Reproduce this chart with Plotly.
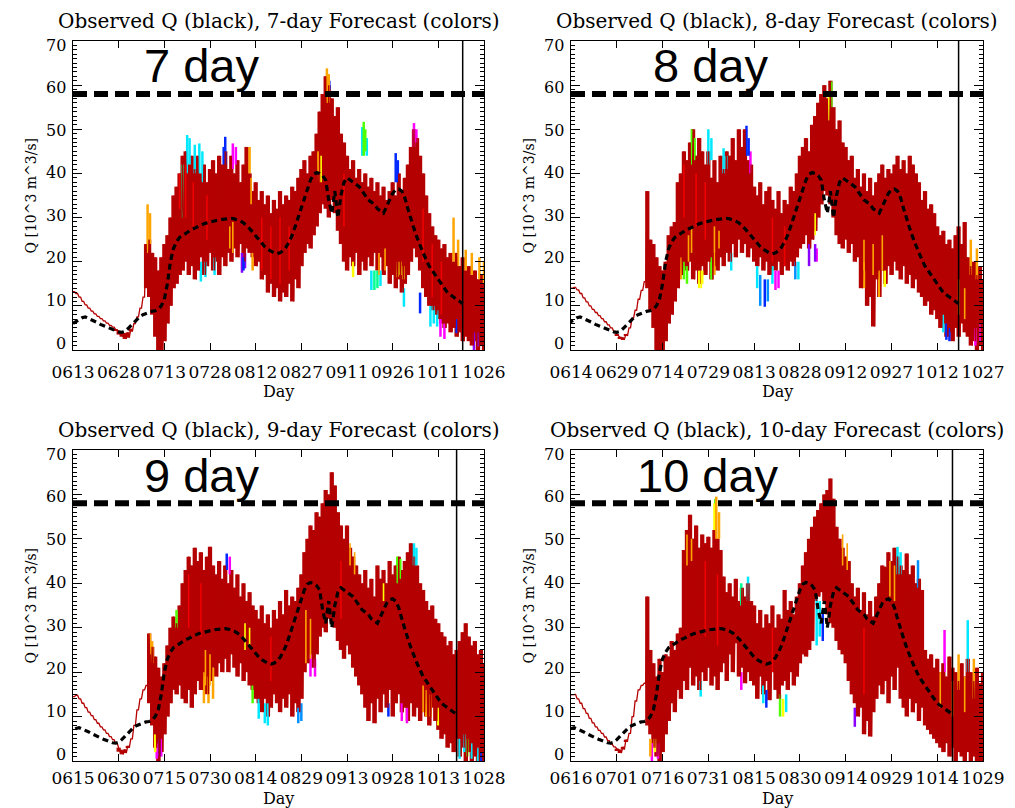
import plotly.graph_objects as go

W, H = 1015, 808

# ---------------- DATA ----------------
ticks7 = ["0613", "0628", "0713", "0728", "0812", "0827", "0911", "0926", "1011", "1026"]
ticks8 = ["0614", "0629", "0714", "0729", "0813", "0828", "0912", "0927", "1012", "1027"]
ticks9 = ["0615", "0630", "0715", "0730", "0814", "0829", "0913", "0928", "1013", "1028"]
ticks10 = ["0616", "0701", "0716", "0731", "0815", "0830", "0914", "0929", "1014", "1029"]
q_ticks = [0, 10, 20, 30, 40, 50, 60, 70]

# observed discharge (10^3 m^3/s), one value per day from 06/13 to 10/19
obs_q = [6, 6.5, 7, 7.3, 7.5, 7.2, 7, 6.6, 6.2, 5.8,
         5.5, 5.2, 4.9, 4.6, 4.3, 4.1, 4, 4.2, 4.8, 5.5,
         6.3, 7, 7.6, 8, 8.3, 8.6, 8.8, 8.9, 9.2, 10,
         11.5, 15, 20, 23, 24.5, 25.5, 26, 26.5, 27, 27.3,
         27.6, 28, 28.3, 28.6, 28.8, 29, 29.2, 29.4, 29.5, 29.6,
         29.7, 29.8, 29.8, 29.7, 29.5, 29.2, 28.8, 28.2, 27.5, 26.7,
         25.8, 25, 24.2, 23.4, 22.8, 22.3, 22, 21.8, 22, 22.5,
         23.3, 24.5, 26, 28, 30, 32, 34.5, 36.5, 38.5, 39.8,
         40.2, 40, 39.5, 38.5, 34, 31, 36, 30, 35, 38,
         39, 38.5, 38, 37.5, 37, 36, 35, 34, 33.5, 33,
         32, 31.5, 31, 32.5, 34, 35.5, 36.3, 36.5, 36, 34.5,
         32, 29.5, 27.5, 25.5, 23.5, 22, 20.5, 19, 18, 17,
         16, 15, 14, 13, 12.5, 12, 11.5, 11, 10.5]
issue_day = 128      # 10/19, days after 06/13
flood_q = 58

# forecast ensemble: upper / lower edge of the dense dark-red bundle, per day of each window
hi7 = [13.2, 12.8, 12, 11, 10.2, 9.5, 8.8, 8.2, 7.6, 7.1,
       6.6, 6.1, 5.6, 5.2, 4.7, 4.3, 4, 3.8, 4, 4.8,
       6, 7.5, 9.5, 12, 24, 25, 22, 21, 18, 21,
       24, 26, 30, 35, 37, 40, 44, 45, 42, 44,
       41, 44, 40, 42, 38, 41, 43, 40, 44, 42,
       45, 41, 44, 40, 43, 38, 42, 46, 40, 36,
       38, 34, 36, 33, 35, 31, 34, 32, 36, 33,
       35, 34, 37, 36, 39, 41, 43, 40, 44, 45,
       49, 54, 58, 62, 60, 57, 53, 55, 49, 47,
       44, 41, 43, 39, 41, 38, 40, 37, 39, 36,
       38, 35, 37, 34, 36, 38, 35, 40, 36, 39,
       42, 46, 50, 48, 44, 40, 35, 31, 28, 26,
       25, 23, 24, 21, 22, 20, 22, 19, 21, 18,
       19, 17, 18, 16, 17, 15]
lo7 = [13.2, 12.8, 12, 11, 10.2, 9.5, 8.8, 8.2, 7.6, 7.1,
       6.6, 6.1, 5.6, 5.2, 4.5, 3.5, 3, 2.5, 2.8, 4.2,
       6, 7.5, 9.5, 12, 14, 12, 8, 3, 0, 0,
       2, 6, 10, 14, 15, 17, 18, 20, 17, 19,
       16, 18, 21, 17, 19, 22, 18, 20, 17, 21,
       19, 22, 20, 23, 21, 24, 20, 23, 22, 21,
       19, 20, 16, 17, 13, 15, 12, 14, 11, 13,
       12, 15, 11, 16, 14, 19, 22, 24, 23, 26,
       28, 31, 33, 32, 30, 34, 31, 27, 24, 20,
       18, 21, 19, 22, 17, 20, 18, 21, 19, 22,
       18, 21, 17, 19, 15, 17, 14, 16, 13, 15,
       17, 20, 23, 21, 18, 14, 12, 10, 9, 8,
       7, 6, 5, 6, 4, 5, 3, 4, 2, 3,
       2, 1, 2, 0, 1, 0]
hi8 = [14, 14.2, 13.6, 12.8, 11.8, 10.9, 10, 9.2, 8.5, 7.8,
       7.1, 6.4, 5.7, 5, 4.2, 3.6, 3, 2.8, 3.6, 5,
       7.2, 9, 11.5, 13.5, 15.5, 36, 25, 24, 21, 19,
       18, 20, 26, 28, 29, 38, 40, 45, 43, 47,
       50, 44, 48, 45, 42, 45, 39, 43, 38, 44,
       41, 45, 44, 48, 43, 50, 46, 50, 43, 42,
       37, 35, 38, 33, 36, 37, 34, 32, 36, 31,
       34, 33, 37, 36, 40, 44, 46, 48, 45, 51,
       53, 56, 58, 60, 57, 61, 55, 50, 52, 47,
       46, 43, 44, 39, 41, 37, 40, 36, 39, 35,
       38, 40, 42, 39, 41, 40, 42, 44, 41, 43,
       40, 44, 42, 40, 38, 34, 36, 32, 33, 31,
       28, 26, 27, 24, 25, 23, 26, 28, 24, 29,
       21, 19, 20, 17, 19, 16]
lo8 = [14, 14.2, 13.6, 12.8, 11.8, 10.9, 10, 9.2, 8.5, 7.8,
       7.1, 6.4, 5.7, 5, 4.2, 3.3, 2.6, 2.4, 3.2, 5,
       7.2, 9, 11.5, 13.5, 15.5, 14, 9, 5, 0, 0,
       0, 2, 6, 8, 11, 14, 17, 19, 18, 20,
       16, 18, 15, 19, 17, 20, 16, 19, 18, 21,
       19, 22, 20, 24, 21, 25, 22, 24, 21, 23,
       20, 19, 21, 18, 20, 17, 19, 18, 20, 17,
       19, 18, 20, 19, 21, 23, 24, 26, 23, 25,
       27, 30, 33, 36, 35, 33, 30, 26, 24, 23,
       25, 22, 24, 20, 21, 14, 18, 10, 12, 5.3,
       16, 12, 18, 15, 19, 17, 20, 18, 16, 19,
       15, 17, 14, 16, 13, 12, 10, 11, 8, 9,
       7, 5, 6, 3, 4, 2, 5, 3, 6, 4,
       3, 1, 2, 0, 1, 0]
hi9 = [14.5, 14.8, 14, 13, 12, 11, 10.2, 9.3, 8.5, 7.7,
       7, 6.2, 5.5, 4.8, 4, 3, 2.4, 2.6, 3.4, 5,
       8, 11.5, 14, 16, 17, 28.7, 25.7, 23.5, 21, 19,
       22, 26, 30, 32.5, 31, 35, 40, 43, 46, 44,
       48, 45, 47, 43, 46, 48.2, 44, 42, 45, 41,
       44, 40, 43, 39, 42, 37, 40, 36, 38, 35,
       34, 32, 35, 31, 33, 30, 34, 32, 36, 33,
       38.5, 35, 37, 36, 39, 42, 47, 50, 53, 52,
       56, 55, 58, 61, 60, 65, 62, 56, 53, 50,
       53, 48, 46, 44, 42, 40, 43, 39, 41, 37,
       44, 41, 43, 40, 45, 42, 44, 46, 43, 45,
       47, 49, 46, 44, 40, 38.5, 36, 34, 35, 32,
       31, 29, 28, 26, 27, 24, 25, 27, 29, 31,
       28, 26, 27, 24, 25, 22]
lo9 = [14.5, 14.8, 14, 13, 12, 11, 10.2, 9.3, 8.5, 7.7,
       7, 6.2, 5.5, 4.8, 4, 2.1, 1.5, 1.8, 3, 5,
       8, 11.5, 14, 16, 17, 13, 8, 3, 0, 2,
       6, 10, 13, 16, 15, 17, 14, 13, 16, 12,
       15, 18, 16, 19, 15, 18, 21, 19, 22, 20,
       23, 20, 24, 21, 19, 22, 18, 20, 17, 16,
       14, 13, 11, 14, 10, 12, 15, 13, 11, 14,
       12, 15, 10, 13, 11, 14, 20, 22, 24, 21,
       24, 28, 30, 29, 32, 31, 30, 27, 25, 23,
       26, 24, 21, 19, 17, 15, 12, 9, 13, 8.5,
       14, 11, 15, 12, 16, 10, 13, 15, 11, 12,
       9, 13, 10, 12, 9, 11, 10, 8, 12, 9,
       7, 5, 6, 3, 4, 2, 5, 1, 3, 0,
       2, 0, 1, 0, 0.5, 0]
hi10 = [14.9, 15, 14, 13, 11.8, 10.7, 9.6, 8.6, 7.7, 6.9,
        6.2, 5.4, 4.6, 3.8, 3.2, 2.8, 2.5, 3.2, 4.8, 6.2,
        10, 13.5, 16, 17, 17.5, 37, 25, 22, 19, 23,
        20, 24, 23.5, 27, 25, 28.7, 30, 47.5, 52, 55.4,
        50, 53, 48, 51, 49, 50.5, 48, 52, 50, 47.5,
        41.5, 38, 40, 37, 41, 36, 39, 37, 40, 36,
        35, 31, 34, 30, 33, 31, 35, 30, 33, 32,
        38.5, 34, 36, 33, 37, 40, 44, 47, 50, 52.7,
        55, 56.5, 58, 60, 61, 63.6, 59, 52.7, 50, 48,
        46, 45, 40, 37, 39, 34, 38, 33, 36, 32.5,
        37, 40, 44, 43.7, 47, 45, 48, 46, 44, 43,
        46.7, 42, 44, 40, 41, 38.5, 25, 23, 24, 21,
        23, 20, 22, 19, 23.5, 21, 20, 18, 22, 19,
        23, 20, 18, 21, 17.5, 20]
lo10 = [14.9, 15, 14, 13, 11.8, 10.7, 9.6, 8.6, 7.7, 6.9,
        6.2, 5.4, 4.6, 3.8, 3.2, 2.4, 1.8, 2.6, 4.5, 6.2,
        10, 13.5, 16, 17, 17.5, 8, 6, 3, 1, 0,
        2, 6, 9, 13, 11, 16, 14, 18, 16, 21,
        17, 19, 16, 20, 18, 21, 17, 19, 16, 20,
        22, 18, 24, 20, 26.5, 19, 21, 17.5, 20, 18,
        17, 14, 19, 15, 18, 13.7, 20, 16, 14, 17,
        18, 16, 20, 17, 19, 22, 24, 23.5, 25, 27,
        36, 37, 38, 36, 33, 31, 30, 27, 25, 24,
        22, 18, 15, 13, 10, 12, 6, 9, 5.5, 11,
        14, 17, 15, 18, 13, 19, 16, 21, 14, 12,
        10, 14, 11, 13, 9, 12, 8, 7, 6, 5,
        4, 3, 2, 4, 1, 3, 0, 2, 1, 0,
        2, 0, 1, 0, 0, 0]

# individual coloured members where they stick out of the bundle: day, low, high, colour
s7_day = [24.5, 25.3, 36, 37.5, 38.3, 40, 41.5, 42.5, 42, 43.5, 46.5, 49.5, 50, 52.5, 53.5, 55.5, 56.5, 56,
          58, 59, 80.5, 83.4, 84, 84.2, 95, 95.5, 96, 96.5, 92, 98, 99, 100, 101, 106, 106.7, 106.5, 107.5,
          108.5, 112, 112.8, 108.7, 114, 117.4, 118.5, 119.6, 120.7, 122, 126, 131.7, 133.3, 125, 126.5,
          129, 131, 133.5, 135]
s7_lo = [22, 24, 30, 40, 42, 40, 40, 38, 15.5, 16.5, 17, 42, 42, 41, 42, 17.5, 18.5, 18,
         40, 18, 38, 56, 56, 59, 44, 44, 45, 44, 16.5, 13.6, 13.6, 14, 14.5, 38, 38, 16.5, 17,
         16, 46, 47, 9.8, 8.3, 5.3, 6, 5.3, 3, 2.5, 3.8, 0, 0.8, 20, 19,
         18, 17, 16, 15]
s7_hi = [33, 31, 42, 48.7, 48, 46.5, 46.8, 45, 20, 20, 21, 46, 48.3, 46.8, 46, 22, 22, 21,
         46, 22, 44.6, 63.8, 62.5, 61, 50.5, 51.7, 50, 48, 20, 18, 18, 18, 18, 44.6, 43, 20, 20,
         19, 51.4, 50, 14, 13, 10, 10, 9, 7, 6, 7, 4, 4, 30, 25,
         22.7, 22, 21, 20]
s7_col = ["orange", "orange", "spring", "cyan", "cyan", "cyan", "cyan", "cyan", "cyan", "cyan", "cyan",
          "blue", "blue", "magenta", "magenta", "purple", "purple", "blue",
          "orange", "orange", "orange", "orange", "orange", "blue", "cyan", "green", "green", "cyan",
          "yellow", "cyan", "spring", "spring", "cyan", "blue", "blue", "yellow", "yellow",
          "yellow", "magenta", "magenta", "cyan", "blue", "cyan", "cyan", "cyan", "magenta", "magenta",
          "blue", "purple", "purple", "orange", "orange", "orange", "orange", "orange", "orange"]

s8_day = [36, 37, 38, 39.6, 40.5, 42, 43, 45, 46, 46, 47, 50, 51, 52.5, 57.5, 58.2, 58.8, 61, 62, 63.5,
          64.5, 66, 67, 68, 73.5, 74.5, 78, 80, 80.5, 84.5, 85.3, 96, 101, 102.8, 122, 123, 124, 131, 133,
          132.5, 134]
s8_lo = [16, 16, 15, 42, 43, 14, 15, 42, 43, 16, 17, 40, 41, 18, 44, 44, 40, 14, 10, 9.8,
         11, 15, 13.6, 14, 16, 16, 19, 20, 20, 52, 55, 14, 12, 14.3, 4, 2.3, 2, 17, 16,
         1, 2]
s8_hi = [21, 20, 19, 50, 48, 18, 18, 50, 48, 21, 22, 45.7, 44, 22, 50.8, 48, 45, 19, 17, 16,
         16, 19, 18, 18, 20, 20, 24, 24, 23, 58, 60.8, 20, 18, 18, 8, 6, 5, 25, 23,
         5, 6]
s8_col = ["orange", "green", "green", "green", "green", "yellow", "yellow", "cyan", "cyan", "green", "orange",
          "cyan", "cyan", "cyan", "blue", "blue", "magenta", "cyan", "dodger", "blue",
          "dodger", "cyan", "magenta", "magenta", "dodger", "cyan", "purple", "purple", "magenta", "yellow",
          "green", "orange", "orange", "yellow", "cyan", "blue", "blue", "orange", "orange",
          "magenta", "magenta"]

s9_day = [25.3, 26, 27, 27.5, 28.5, 29, 34, 43, 44.5, 46, 50.5, 51.5, 59, 61, 63, 64, 74, 75, 78, 79.5,
          103.6, 106.5, 107.5, 108, 109.7, 112, 112.8, 116, 117.5, 120, 127, 128.5, 129.5, 131, 133, 134]
s9_lo = [24, 22, 2, 0.5, 1, 1, 30, 13, 13, 14, 43, 42, 13, 9.5, 8.5, 8, 8.5, 9, 19, 19,
         10, 40, 41, 9, 8.5, 44, 44, 10, 10, 8, 0.5, 2, 1, 0.5, 0, 0]
s9_hi = [28.7, 27, 6, 4, 5, 5, 34, 20, 19, 21, 46.7, 46, 17, 14, 13, 13, 12, 13, 24, 23,
         13, 46, 45.5, 13, 12, 49, 48, 16, 15, 12, 5, 6, 5, 4, 3, 2]
s9_col = ["orange", "orange", "yellow", "magenta", "purple", "magenta", "green", "orange", "orange", "orange",
          "blue", "magenta", "green", "cyan", "cyan", "cyan", "dodger", "dodger", "magenta", "magenta",
          "blue", "green", "green", "magenta", "magenta", "cyan", "cyan", "orange", "orange", "yellow",
          "cyan", "cyan", "green", "cyan", "cyan", "blue"]

s10_day = [26, 26.5, 27.5, 28.5, 42.5, 47, 47.3, 47.6, 48.5, 55.8, 55.8, 58, 63, 64, 68.5, 69.5, 70.5,
           80.5, 81.5, 82.5, 93, 107, 108, 113.7, 122.4, 130, 127, 132]
s10_lo = [1, 0, 2, 0.5, 14.5, 52, 56, 50, 50, 35, 16, 36, 13, 12, 10, 10, 11,
          26, 28, 27, 7.7, 42, 42, 39, 20, 20, 16, 14]
s10_hi = [5, 4, 5, 4, 18, 58, 59, 59.5, 56, 40, 20, 41.5, 17, 16, 15, 14, 15,
          37, 36, 34, 12, 48.2, 47, 45.2, 29.5, 31.7, 24, 23]
s10_col = ["orange", "magenta", "yellow", "magenta", "cyan", "yellow", "green", "orange", "orange", "spring",
           "magenta", "cyan", "cyan", "blue", "green", "yellow", "cyan",
           "cyan", "cyan", "blue", "purple", "cyan", "cyan", "dodger", "magenta", "cyan", "orange", "orange"]

# warmer members seen on top of the bundle: day, low, high, colour
t7_day = [35, 37, 39.5, 44, 51.5, 52.5, 58.5, 62, 65, 68, 71, 80.5, 81.5, 89, 100.5, 102.5, 115, 118, 121]
t7_lo = [32, 30, 28, 25, 23, 22, 33, 18, 16, 15, 18, 40, 38, 28, 17, 18, 20, 12, 8]
t7_hi = [40, 42, 38, 35, 28, 29, 39, 30, 28, 30, 28, 45, 44, 40, 22, 23, 32, 24, 20]
t7_col = ["red", "red", "red", "red", "orange", "orange", "orange", "red", "red", "red", "red", "orange",
          "yellow", "red", "orange", "orange", "red", "red", "red"]
t8_day = [38.5, 39.5, 42.7, 47, 48.5, 37, 41, 44, 80, 96, 99, 102, 127, 129, 66, 70]
t8_lo = [20, 22, 14, 22, 23, 30, 28, 25, 26, 18, 17, 18, 8, 7, 20, 19]
t8_hi = [26, 28, 18, 28, 27, 42, 40, 38, 31, 25, 24, 26, 16, 14, 30, 28]
t8_col = ["orange", "orange", "yellow", "orange", "orange", "red", "red", "red", "yellow", "orange", "orange",
          "orange", "orange", "orange", "red", "red"]
t9_day = [43.5, 45, 56.5, 58, 76.5, 78, 91, 92.5, 102, 115, 38, 42, 65, 88]
t9_lo = [17, 17, 25, 26, 22, 23, 44, 42, 36, 11, 30, 28, 18, 32]
t9_hi = [25, 24, 31, 30, 34, 32, 49, 47, 40, 17, 42, 40, 28, 45]
t9_col = ["orange", "orange", "yellow", "yellow", "orange", "orange", "orange", "orange", "yellow", "orange",
          "red", "red", "red", "red"]
t10_day = [38, 39.5, 89, 90.5, 104.5, 106, 121, 125, 129, 44, 48, 66, 96]
t10_lo = [44, 45, 44, 43, 37, 36, 12, 10, 11, 28, 26, 20, 15]
t10_hi = [51, 50, 51, 49, 45, 44, 20, 18, 19, 45, 42, 30, 30]
t10_col = ["orange", "orange", "orange", "orange", "orange", "orange", "orange", "orange", "orange", "red",
           "red", "red", "red"]

# ---------------- STYLE / LAYOUT ----------------
member_colors = {"magenta": "#ff00ff", "purple": "#8a00ff", "blue": "#0028ff", "dodger": "#0090ff",
                 "cyan": "#00e8ff", "spring": "#00ff90", "green": "#50ff00", "yellow": "#ffff00",
                 "orange": "#ffa500", "red": "#ee0000"}
bundle_color = "#b40000"
SERIF = "DejaVu Serif"

panels = [
    dict(lead=7, off=0, ticks=ticks7, hi=hi7, lo=lo7, sp=(s7_day, s7_lo, s7_hi, s7_col),
         tp=(t7_day, t7_lo, t7_hi, t7_col), px=(73, 484), py=(41, 350), lab_x=142, stand=7, day_dy=41),
    dict(lead=8, off=1, ticks=ticks8, hi=hi8, lo=lo8, sp=(s8_day, s8_lo, s8_hi, s8_col),
         tp=(t8_day, t8_lo, t8_hi, t8_col), px=(571, 983), py=(41, 350), lab_x=651, stand=7, day_dy=41),
    dict(lead=9, off=2, ticks=ticks9, hi=hi9, lo=lo9, sp=(s9_day, s9_lo, s9_hi, s9_col),
         tp=(t9_day, t9_lo, t9_hi, t9_col), px=(73, 484), py=(450, 761), lab_x=142, stand=2, day_dy=37),
    dict(lead=10, off=3, ticks=ticks10, hi=hi10, lo=lo10, sp=(s10_day, s10_lo, s10_hi, s10_col),
         tp=(t10_day, t10_lo, t10_hi, t10_col), px=(571, 983), py=(450, 761), lab_x=635, stand=2, day_dy=37),
]

fig = go.Figure()
layout = dict(template="none", width=W, height=H, margin=dict(l=0, r=0, t=0, b=0, pad=0),
              showlegend=False, paper_bgcolor="white", plot_bgcolor="white",
              barmode="overlay", annotations=[], shapes=[])


def add_strokes(spec, off, xs, ys, width):
    sd, sl, sh, sc = spec
    for cname, ccol in member_colors.items():
        xx, yy = [], []
        for d, a, b, c in zip(sd, sl, sh, sc):
            if c == cname:
                xx += [off + d, off + d, None]
                yy += [a, b, None]
        if xx:
            fig.add_trace(go.Scatter(x=xx, y=yy, mode="lines", xaxis=xs, yaxis=ys,
                                     line=dict(color=ccol, width=width), hoverinfo="skip"))


for n, p in enumerate(panels, start=1):
    xs = "x" if n == 1 else f"x{n}"
    ys = "y" if n == 1 else f"y{n}"
    off = p["off"]
    span = 135

    # coloured members (under the bundle)
    add_strokes(p["sp"], off, xs, ys, 2.5)

    # dense dark-red bundle: one vertical stroke per day from lower to upper edge
    days = [off + i for i in range(len(p["hi"]))]
    fig.add_trace(go.Bar(x=days, y=[a - b for a, b in zip(p["hi"], p["lo"])], base=p["lo"],
                         width=1.4, xaxis=xs, yaxis=ys, marker=dict(color=bundle_color, line=dict(width=0)),
                         hoverinfo="skip"))
    bx, by = [], []
    for i, (a, b) in enumerate(zip(p["hi"], p["lo"])):
        bx += [off + i, off + i + 0.5]
        by += [a, b]
    fig.add_trace(go.Scatter(x=bx, y=by, mode="lines", xaxis=xs, yaxis=ys,
                             line=dict(color=bundle_color, width=1.3), hoverinfo="skip"))

    # warm members drawn over the bundle
    add_strokes(p["tp"], off, xs, ys, 1.6)

    # observed
    fig.add_trace(go.Scatter(x=list(range(len(obs_q))), y=obs_q, mode="lines", xaxis=xs, yaxis=ys,
                             line=dict(color="black", width=3.2, dash="6px,4px"), hoverinfo="skip"))

    x0, x1 = p["px"]
    y0, y1 = p["py"]
    axis_common = dict(showline=True, linecolor="black", linewidth=1, mirror="ticks", ticks="inside",
                       tickcolor="black", tickwidth=1, showgrid=False, zeroline=False, automargin=False)
    layout["xaxis" if n == 1 else f"xaxis{n}"] = dict(
        axis_common, domain=[x0 / W, x1 / W], anchor=ys, range=[off, off + span],
        tickvals=[off + 15 * j for j in range(len(p["ticks"]))], ticktext=p["ticks"],
        ticklen=7, ticklabelstandoff=p["stand"], tickangle=0,
        tickfont=dict(family=SERIF, size=17, color="black"))
    layout["yaxis" if n == 1 else f"yaxis{n}"] = dict(
        axis_common, domain=[1 - y1 / H, 1 - y0 / H], anchor=xs, range=[0, 70],
        tickvals=q_ticks, ticklen=9, showticklabels=False,
        minor=dict(dtick=1, ticklen=4, ticks="inside", tickcolor="black", showgrid=False))

    # Q tick labels, nudged toward the middle as in the original
    for v in q_ticks:
        layout["annotations"].append(dict(
            text=str(v), xref=f"{xs} domain", yref=ys, x=0, y=v, xanchor="right", yanchor="middle",
            xshift=-5, yshift=-4 + 11 * (70 - v) / 70, showarrow=False,
            font=dict(family=SERIF, size=16, color="black")))

    # flood level dashed line and issue-date vertical line
    layout["shapes"].append(dict(type="line", xref=f"{xs} domain", yref=ys, x0=0, x1=1,
                                 y0=flood_q, y1=flood_q, line=dict(color="black", width=6, dash="14px,7px")))
    layout["shapes"].append(dict(type="line", xref=xs, yref=f"{ys} domain", x0=issue_day, x1=issue_day,
                                 y0=0, y1=1, line=dict(color="black", width=1.5)))

    cx = (x0 + x1) / 2
    cy = (y0 + y1) / 2
    layout["annotations"] += [
        dict(text=f"Observed Q (black), {p['lead']}-day Forecast (colors)", xref="paper", yref="paper",
             x=cx / W, y=1 - (y0 - 20) / H, xanchor="center", yanchor="middle", showarrow=False,
             font=dict(family=SERIF, size=20, color="black")),
        dict(text=f"{p['lead']} day", xref="paper", yref="paper", x=p["lab_x"] / W, y=1 - (y0 + 25) / H,
             xanchor="left", yanchor="middle", showarrow=False,
             font=dict(family="Liberation Sans", size=47, color="black")),
        dict(text="Q [10^3 m^3/s]", xref="paper", yref="paper", x=(x0 - 43) / W, y=1 - cy / H,
             xanchor="center", yanchor="middle", textangle=-90, showarrow=False,
             font=dict(family=SERIF, size=14, color="black")),
        dict(text="Day", xref="paper", yref="paper", x=cx / W, y=1 - (y1 + p["day_dy"]) / H,
             xanchor="center", yanchor="middle", showarrow=False,
             font=dict(family=SERIF, size=16, color="black")),
    ]

fig.update_layout(**layout)
fig.write_html("out.html")
